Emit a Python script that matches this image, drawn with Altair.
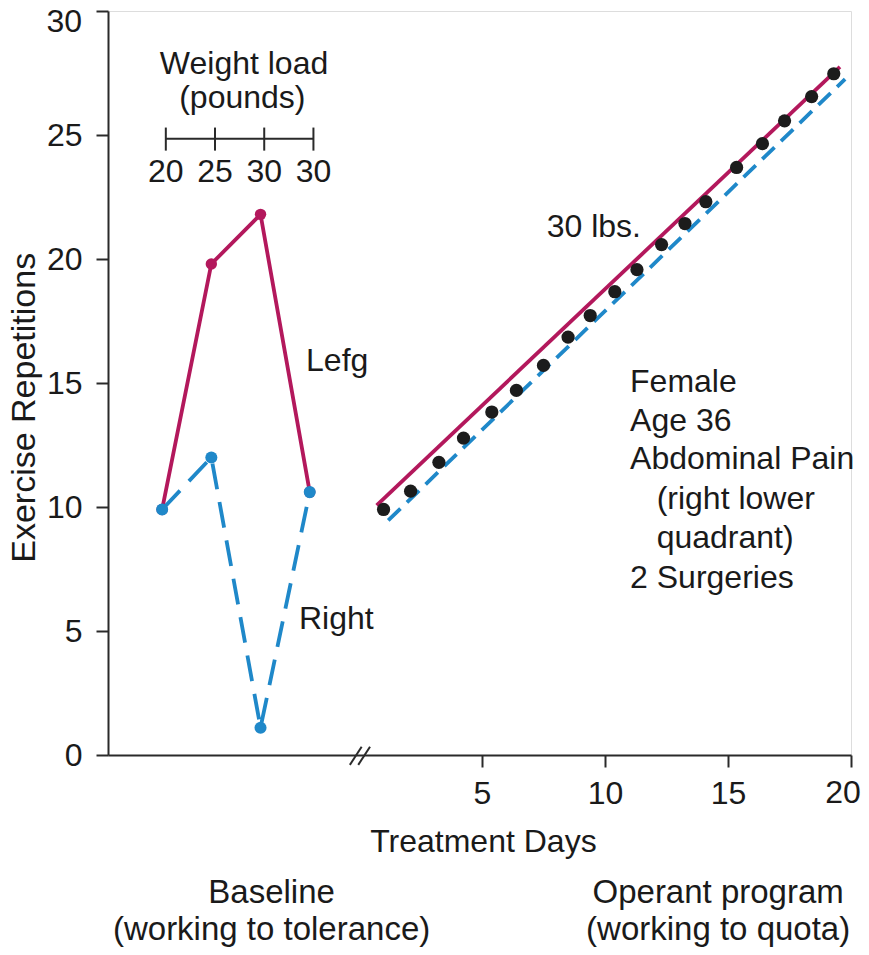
import altair as alt
import pandas as pd

# ---------------- data ----------------
baseline_session = [1, 2, 3, 4]
weight_load = [20, 25, 30, 30]
left_reps = [9.9, 19.8, 21.8, 10.6]
right_reps = [9.9, 12.0, 1.1, 10.6]

treatment_day = [1.0, 2.1, 3.25, 4.25, 5.4, 6.4, 7.5, 8.5, 9.4, 10.4,
                 11.3, 12.3, 13.25, 14.1, 15.35, 16.4, 17.3, 18.4, 19.3]
treatment_reps = [9.9, 10.64, 11.8, 12.78, 13.83, 14.7, 15.71, 16.85, 17.72, 18.68,
                  19.57, 20.58, 21.43, 22.31, 23.69, 24.65, 25.57, 26.55, 27.47]

left_trend_day = [0.72, 19.55]
left_trend_reps = [10.07, 27.75]
right_trend_day = [1.19, 19.76]
right_trend_reps = [9.46, 27.25]

x_ticks = [5, 10, 15, 20]
y_ticks = [0, 5, 10, 15, 20, 25, 30]

# ---------------- style ----------------
FONT = "Liberation Sans"
FS = 32
RED = "#b3185c"
BLUE = "#1f88c9"
BLACK = "#1c1c1c"
AXIS = "#2a2a2a"
TEXT = "#1a1a1a"

X_MIN, X_MAX = -10.2, 20
Y_MIN, Y_MAX = 0, 30
x_scale = alt.Scale(domain=[X_MIN, X_MAX], nice=False, zero=False)
y_scale = alt.Scale(domain=[Y_MIN, Y_MAX], nice=False, zero=False)

# the end labels (30 on y, 20 on x) sit at the page edge; they are drawn as text marks
X_AXIS = alt.Axis(values=x_ticks, title=None, grid=False, tickSize=12, tickWidth=2,
                  tickColor=AXIS, domainColor=AXIS, domainWidth=2, labelFont=FONT,
                  labelFontSize=FS, labelColor=TEXT, labelPadding=11, labelFlush=False,
                  labelExpr=f"datum.value == {x_ticks[-1]} ? '' : datum.label")
Y_AXIS = alt.Axis(values=y_ticks, title=None, grid=False, tickSize=12, tickWidth=2,
                  tickColor=AXIS, domainColor=AXIS, domainWidth=2, labelFont=FONT,
                  labelFontSize=FS, labelColor=TEXT, labelPadding=14, labelFlush=False,
                  labelExpr=f"datum.value == {y_ticks[-1]} ? '' : datum.label")


def xq(field):
    return alt.X(field, type="quantitative", scale=x_scale, axis=X_AXIS)


def yq(field):
    return alt.Y(field, type="quantitative", scale=y_scale, axis=Y_AXIS)


# baseline sessions placed left of the axis break
base_df = pd.DataFrame({"session": baseline_session, "load": weight_load,
                        "Left": left_reps, "Right": right_reps})
base_df["x"] = 2 * base_df["session"] - 10
base_df["tick_x"] = base_df["x"] + 0.15
base_df["load_label"] = base_df["load"].astype(str)

treat_df = pd.DataFrame({"day": treatment_day, "reps": treatment_reps})
left_trend = pd.DataFrame({"day": left_trend_day, "reps": left_trend_reps})
right_trend = pd.DataFrame({"day": right_trend_day, "reps": right_trend_reps})

# baseline lines + points
left_line = alt.Chart(base_df).mark_line(color=RED, strokeWidth=3.8).encode(
    x=xq("x"), y=yq("Left"))
right_line = alt.Chart(base_df).mark_line(color=BLUE, strokeWidth=3.8, strokeDash=[26, 13]).encode(
    x=xq("x"), y=yq("Right"))
left_pts = alt.Chart(base_df).mark_circle(color=RED, size=130, opacity=1).encode(
    x=xq("x"), y=yq("Left"))
right_pts = alt.Chart(base_df).mark_circle(color=BLUE, size=145, opacity=1).encode(
    x=xq("x"), y=yq("Right"))

# treatment lines + points
lt = alt.Chart(left_trend).mark_line(color=RED, strokeWidth=3.8).encode(x=xq("day"), y=yq("reps"))
rt = alt.Chart(right_trend).mark_line(color=BLUE, strokeWidth=3.8, strokeDash=[17, 9]).encode(
    x=xq("day"), y=yq("reps"))
dots = alt.Chart(treat_df).mark_circle(color=BLACK, size=175, opacity=1).encode(
    x=xq("day"), y=yq("reps"))

# weight-load mini axis
wl_line_df = pd.DataFrame({"x": [base_df["tick_x"].min()], "x2": [base_df["tick_x"].max()], "y": [24.85]})
wl_line = alt.Chart(wl_line_df).mark_rule(color=AXIS, strokeWidth=2).encode(
    x=xq("x"), x2="x2:Q", y=yq("y"))
wl_ticks_df = base_df.assign(y=24.37, y2=25.3)
wl_ticks = alt.Chart(wl_ticks_df).mark_rule(color=AXIS, strokeWidth=2).encode(
    x=xq("tick_x"), y=yq("y"), y2="y2:Q")
wl_labels = alt.Chart(base_df.assign(y=23.49)).mark_text(
    font=FONT, fontSize=FS, color=TEXT, align="center", baseline="middle").encode(
    x=xq("tick_x"), y=yq("y"), text="load_label:N")

# axis break marks
break_df = pd.DataFrame({"x": [-0.37, -0.03], "x2": [0.11, 0.45], "y": [-0.40, -0.40], "y2": [0.33, 0.33]})
brk = alt.Chart(break_df).mark_rule(color=AXIS, strokeWidth=2).encode(
    x=xq("x"), x2="x2:Q", y=yq("y"), y2="y2:Q")

# end tick labels kept inside the page
y_end = alt.Chart(pd.DataFrame({"x": [X_MIN], "y": [y_ticks[-1]], "t": [str(y_ticks[-1])]})).mark_text(
    font=FONT, fontSize=FS, color=TEXT, align="right", baseline="middle", dx=-26, dy=11).encode(
    x=xq("x"), y=yq("y"), text="t:N")
x_end = alt.Chart(pd.DataFrame({"x": [x_ticks[-1]], "y": [Y_MIN], "t": [str(x_ticks[-1])]})).mark_text(
    font=FONT, fontSize=FS, color=TEXT, align="center", baseline="top", dx=-8, dy=23).encode(
    x=xq("x"), y=yq("y"), text="t:N")

# annotations
center_txt = pd.DataFrame({
    "text": ["Weight load", "(pounds)", "Treatment Days"],
    "x": [-4.67, -4.74, 5.06],
    "y": [27.88, 26.51, -3.5],
})
bottom_txt = pd.DataFrame({
    "text": ["Baseline", "(working to tolerance)", "Operant program", "(working to quota)"],
    "x": [-3.55, -3.55, 14.6, 14.6],
    "y": [-5.56, -7.06, -5.56, -7.06],
})
left_txt = pd.DataFrame({
    "text": ["Lefg", "Right", "30 lbs.", "Female", "Age 36", "Abdominal Pain",
             "(right lower", "quadrant)", "2 Surgeries"],
    "x": [-2.15, -2.44, 7.63, 11.02, 11.02, 11.02, 12.1, 12.1, 11.02],
    "y": [15.9, 5.48, 21.3, 15.06, 13.45, 11.92, 10.31, 8.74, 7.13],
})
ytitle_df = pd.DataFrame({"text": ["Exercise Repetitions"], "x": [-13.58], "y": [14.0]})

center_layer = alt.Chart(center_txt).mark_text(
    font=FONT, fontSize=FS, color=TEXT, align="center", baseline="middle").encode(
    x=xq("x"), y=yq("y"), text="text:N")
bottom_layer = alt.Chart(bottom_txt).mark_text(
    font=FONT, fontSize=33, color=TEXT, align="center", baseline="middle").encode(
    x=xq("x"), y=yq("y"), text="text:N")
left_layer = alt.Chart(left_txt).mark_text(
    font=FONT, fontSize=FS, color=TEXT, align="left", baseline="middle").encode(
    x=xq("x"), y=yq("y"), text="text:N")
ytitle = alt.Chart(ytitle_df).mark_text(
    font=FONT, fontSize=34, color=TEXT, align="center", baseline="middle", angle=270).encode(
    x=xq("x"), y=yq("y"), text="text:N")

chart = alt.layer(
    left_line, right_line, left_pts, right_pts,
    lt, rt, dots,
    wl_line, wl_ticks, wl_labels, brk, y_end, x_end,
    center_layer, bottom_layer, left_layer, ytitle,
).properties(
    width=743, height=744,
    autosize=alt.AutoSizeParams(type="none"),
    padding={"left": 100, "top": 3, "right": 10, "bottom": 192},
).configure_view(stroke=None).configure(background="white")

chart.save("out.html", embed_options={"renderer": "svg", "actions": False})
